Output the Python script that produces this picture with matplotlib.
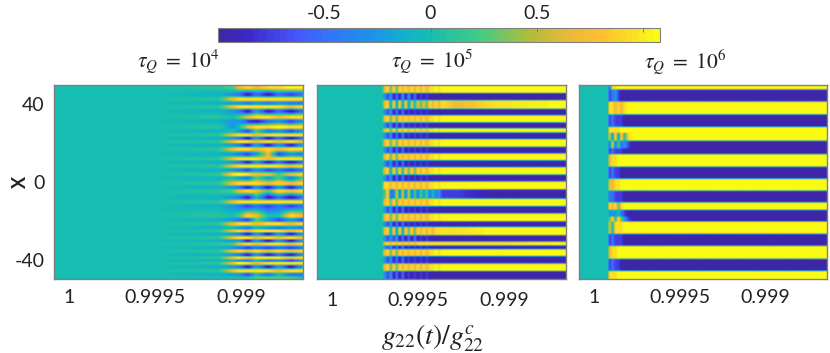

import numpy as np
import matplotlib
matplotlib.use('Agg')
import matplotlib.pyplot as plt
from matplotlib.colors import LinearSegmentedColormap

plt.rcParams['font.family'] = ['Lato', 'DejaVu Sans']
plt.rcParams['mathtext.fontset'] = 'stix'

# colour scale
cbar_stops = [0, 0.06, 0.17, 0.24, 0.36, 0.43, 0.48, 0.6, 0.7, 0.8, 0.87, 0.95, 1]
cbar_colors = ['#3e26a8', '#3c28c8', '#4655fa', '#3274fa', '#1e96e6', '#10b4c8', '#17beb0', '#46cb82',
               '#aabe3c', '#ebb937', '#ffbe32', '#fae123', '#f9fb15']
cbar_ticks = [-0.5, 0, 0.5, 1]
cbar_labels = ['-0.5', '0', '0.5', '']

g_ticks = [1, 0.9995, 0.999]
g_labels = ['1', '0.9995', '0.999']
x_ticks = [40, 0, -40]

# field level codes used in the rows below
levels = {'0': -1, '1': -0.75, '2': -0.5, '3': -0.25, '4': 0, '5': 0.25, '6': 0.7,
          '7': 0.95, '8': 1.08, 'a': -0.1, 'b': 0.1}

# tau_Q = 1e4: one row per crest / trough
g_1 = [1.00009, 0.99951, 0.99913, 0.99905, 0.99901, 0.99896, 0.99891, 0.99884, 0.99878, 0.99871, 0.99864]
x_1 = [49.0, 45.2, 42.8, 40.7, 38.9, 36.6, 33.5, 31.4, 28.4, 26.3, 24.2, 22.7, 20.9, 19.1, 17.0, 14.4,
       11.9, 10.3, 8.2, 6.2, 3.9, 2.1, -0.8, -2.8, -4.6, -8.0, -10.3, -12.4, -17.5, -19.6, -21.6, -23.7,
       -25.3, -26.8, -28.9, -30.4, -32.0, -34.0, -35.6, -37.6, -39.2, -40.7, -41.9, -43.8, -45.9, -47.9, -49.5]
rows_1 = ["44b56767788", "44a32020212", "44b67777777", "44a33232322", "44b67777767", "44a32030202",
          "44b45677677", "44a33102313", "44b34677877", "44a43152313", "44b67767777", "44a32030202",
          "44b67767676", "44a32030303", "44b67767677", "44a32136132", "44b67776777", "44a32030202",
          "44b67777767", "44a32131212", "44b78766567", "44a43253525", "44b67776767", "44a32030303",
          "44b56765767", "44a32040202", "44b67777777", "44a32121212", "44b45764476", "44a32153131",
          "44b67767767", "44a43243232", "44b67677767", "44a32030303", "44b67767676", "44a33030303",
          "44b56767767", "44a32121212", "44b67676767", "44a32030203", "44b67677767", "44a43242313",
          "44b68767777", "44a32030303", "44b67777677", "44a33142422", "44444455554"]

# tau_Q = 1e5: one row per stripe, edges between the stripes
g_2 = [1.00009, 0.999713, 0.999696, 0.999678, 0.999661, 0.999643, 0.999626, 0.999608, 0.999591, 0.999573,
       0.999556, 0.999538, 0.99952, 0.999503, 0.999485, 0.999468, 0.99945, 0.999433, 0.999415, 0.999398,
       0.99938, 0.999362, 0.999275, 0.99907, 0.99864]
edges_2 = [46.0, 42.3, 37.8, 34.5, 30.8, 27.8, 25.6, 22.2, 18.2, 14.8, 11.2, 7.7, 3.8, 0.3, -3.8, -8.6,
           -12.5, -16.2, -20.3, -23.2, -27.5, -30.8, -32.8, -34.7, -38.3, -42.1, -46.0]
yellow_2 = "4467575767676767677878888"
blue_2 = "4431302020101010100000000"
rows_2 = [yellow_2, "4431302030302010100000000", "4467373737364656576767678", blue_2,
          yellow_2, blue_2, yellow_2, blue_2,
          yellow_2, blue_2, yellow_2, blue_2,
          "4467374747575767677878888", blue_2, "4477676767676767677878888", "4457226262625253524231100",
          yellow_2, blue_2, yellow_2, blue_2,
          "4467373737575767676777788", "4431313020202010100000000", "4467676767676777777777778", blue_2,
          yellow_2, blue_2, yellow_2, blue_2]

# tau_Q = 1e6
g_3 = [1.00009, 0.999924, 0.999912, 0.999895, 0.999877, 0.99986, 0.999842, 0.999825, 0.999801, 0.999772,
       0.999713, 0.99864]
edges_3 = [47.8, 41.6, 34.9, 28.5, 25.4, 21.3, 17.4, 14.4, 7.9, 1.7, -4.5, -10.5, -14.4, -17.9, -20.4,
           -26.8, -33.0, -39.7, -45.9]
rows_3 = ["442778888888", "441231000000", "447767678888", "441211100000", "447777888888",
          "446373747888", "442625231000", "441211100000", "446778888888", "441211000000",
          "446677888888", "442211100000", "447675788888", "443334210000", "445747531000",
          "446477788888", "441211100000", "446778888888", "441211000000", "447778888888"]


def decode(rows):
    return np.array([[levels[c] for c in row] for row in rows])


def stripes(edges, rows):
    # flat topped stripes, narrow blend at each edge
    bounds = [50] + edges + [-50]
    z = decode(rows)
    y_out, z_out = [], []
    for i in range(len(rows)):
        y_out += [bounds[i] - (0.5 if i > 0 else 0), bounds[i + 1] + (0.5 if i < len(rows) - 1 else 0)]
        z_out += [z[i], z[i]]
    return np.array(y_out), np.array(z_out)


def crests(centres, rows):
    # a short flat top on every crest and trough
    z = decode(rows)
    y_out, z_out = [], []
    for i in range(len(rows)):
        y_out += [centres[i] + 0.45, centres[i] - 0.45]
        z_out += [z[i], z[i]]
    return np.array(y_out), np.array(z_out)


def resample(g, y, z):
    # fill a fine grid so the blends follow the colour scale
    g_new = np.linspace(1.00009, 0.99864, 500)
    y_new = np.linspace(-50, 50, 400)
    g = np.array(g)
    by_col = np.array([np.interp(-g_new, -g, row) for row in z])
    out = np.array([np.interp(y_new, y[::-1], by_col[::-1, j]) for j in range(len(g_new))]).T
    return out


cmap = LinearSegmentedColormap.from_list('bar', list(zip(cbar_stops, cbar_colors)), N=64)
W, H = 830, 353
fig = plt.figure(figsize=(W / 100, H / 100), dpi=100)


def px_axes(left, top, right, bottom):
    return fig.add_axes([left / W, 1 - bottom / H, (right - left) / W, (bottom - top) / H])


y_1, z_1 = crests(x_1, rows_1)
y_2, z_2 = stripes(edges_2, rows_2)
y_3, z_3 = stripes(edges_3, rows_3)
panels = [
    (54, 303, g_1, y_1, z_1, 7),
    (317, 566, g_2, y_2, z_2, 9),
    (579, 827, g_3, y_3, z_3, 7),
]
for n, (left, right, g, y, z, pad) in enumerate(panels):
    ax = px_axes(left, 85, right, 279)
    field = resample(g, y, z)
    im = ax.imshow(field, origin='lower', extent=(1.00009, 0.99864, -50, 50), aspect='auto',
                   cmap=cmap, vmin=-1, vmax=1.08, interpolation='bilinear')
    ax.set_xticks(g_ticks)
    ax.set_xticklabels(g_labels, fontsize=14, color='#222222')
    ax.tick_params(axis='x', length=0, pad=pad)
    if n == 0:
        ax.set_yticks(x_ticks)
        ax.set_yticklabels(['40', '0', '-40'], fontsize=14, color='#222222')
        ax.tick_params(axis='y', length=0, pad=7)
    else:
        ax.set_yticks([])
    for s in ax.spines.values():
        s.set_color('#808080')
        s.set_linewidth(1)

cax = px_axes(218, 28, 660, 42)
cb = fig.colorbar(im, cax=cax, orientation='horizontal')
cb.set_ticks(cbar_ticks)
cb.set_ticklabels(cbar_labels, fontsize=14, color='#222222')
cb.ax.xaxis.set_ticks_position('top')
cb.ax.tick_params(axis='x', direction='in', length=3, width=0.6, color='#707070', pad=4)
cb.outline.set_edgecolor('#808080')

fig.text(178 / W, 1 - 62 / H, r'$\tau_Q\ =\ 10^4$', fontsize=15.5, ha='center', va='center', color='#222222')
fig.text(432 / W, 1 - 62 / H, r'$\tau_Q\ =\ 10^5$', fontsize=15.5, ha='center', va='center', color='#222222')
fig.text(685 / W, 1 - 62 / H, r'$\tau_Q\ =\ 10^6$', fontsize=15.5, ha='center', va='center', color='#222222')
fig.text(433 / W, 1 - 338 / H, r'$g_{22}(t)/g_{22}^{c}$', fontsize=20, ha='center', va='center', color='#222222')
fig.text(20 / W, 1 - 182 / H, 'X', fontsize=13, fontweight='bold', rotation=90, ha='center', va='center', color='#222222')

fig.savefig('out.png', dpi=100)
